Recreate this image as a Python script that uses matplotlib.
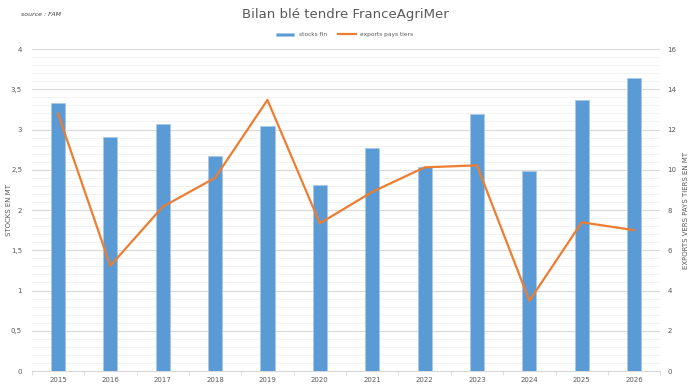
import matplotlib
matplotlib.use("Agg")
import matplotlib.pyplot as plt
import numpy as np
from matplotlib.ticker import MultipleLocator, FixedLocator

years = ["2015", "2016", "2017", "2018", "2019", "2020", "2021", "2022", "2023", "2024", "2025", "2026"]
stocks_fin = [3.33, 2.91, 3.07, 2.67, 3.04, 2.31, 2.77, 2.53, 3.19, 2.48, 3.37, 3.64]
exports_pays_tiers = [12.8, 5.23, 8.16, 9.6, 13.47, 7.34, 8.9, 10.12, 10.22, 3.49, 7.39, 7.0]

plt.rcParams['font.family'] = ['DejaVu Sans']
fig = plt.figure(figsize=(6.9, 3.87), dpi=100)
ax = fig.add_axes([0.046, 0.0413, 0.911, 0.832])
ax2 = ax.twinx()

x = np.arange(len(years))
ax.set_zorder(1)
ax.patch.set_visible(False)
ax2.set_zorder(0)

bars = ax.bar(x, stocks_fin, width=0.27, color="#5B9BD5", edgecolor="#A9C9EA", linewidth=0.6,
              label="stocks fin", zorder=3)
ln, = ax.plot(x, [v / 4.0 for v in exports_pays_tiers], color="#ED7D31", linewidth=1.6,
              label="exports pays tiers", zorder=4)

ax.set_xlim(-0.5, len(years) - 0.5)
ax.set_ylim(0, 4)
ax2.set_ylim(0, 16)

ax.yaxis.set_major_locator(MultipleLocator(0.5))
ax.yaxis.set_minor_locator(MultipleLocator(0.1))
ax2.yaxis.set_major_locator(MultipleLocator(2))

ax.grid(True, which="major", axis="y", color="#D9D9D9", linewidth=0.8, zorder=0)
ax.grid(True, which="minor", axis="y", color="#F2F2F2", linewidth=0.8, zorder=0)

ax.set_yticks(np.arange(0, 4.01, 0.5))
ax.set_yticklabels([("%g" % v).replace(".", ",") for v in np.arange(0, 4.01, 0.5)])
ax.set_xticks(x)
ax.set_xticklabels(years)
ax.xaxis.set_minor_locator(FixedLocator(np.arange(-0.5, len(years), 1.0)))

for a in (ax, ax2):
    for s in a.spines.values():
        s.set_visible(False)
ax.spines["bottom"].set_visible(True)
ax.spines["bottom"].set_color("#D9D9D9")

ax.tick_params(axis="y", which="both", length=0, labelsize=5, labelcolor="#595959", pad=7)
ax.tick_params(axis="x", which="major", length=0, labelsize=5, labelcolor="#595959", pad=4)
ax.tick_params(axis="x", which="minor", length=3, color="#D9D9D9")
ax2.tick_params(axis="y", length=0, labelsize=5, labelcolor="#595959", pad=5)

ax.set_ylabel("STOCKS EN MT", fontsize=5, color="#595959")
ax.yaxis.set_label_coords(-0.032, 0.5)
ax2.set_ylabel("EXPORTS VERS PAYS TIERS EN MT", fontsize=5, color="#595959", labelpad=5)

fig.text(0.5, 0.962, "Bilan blé tendre FranceAgriMer", ha="center", va="center",
         fontsize=9.5, color="#595959")
fig.text(0.03, 0.962, "source : FAM", ha="left", va="center", fontsize=4.5,
         color="#404040", style="italic")

fig.legend([bars, ln], ["stocks fin", "exports pays tiers"], loc="center",
           bbox_to_anchor=(0.5, 0.91), ncol=2, frameon=False, fontsize=4.2,
           labelcolor="#595959", handlelength=3, handleheight=0.5, columnspacing=2)

fig.savefig("out.png", dpi=100)
